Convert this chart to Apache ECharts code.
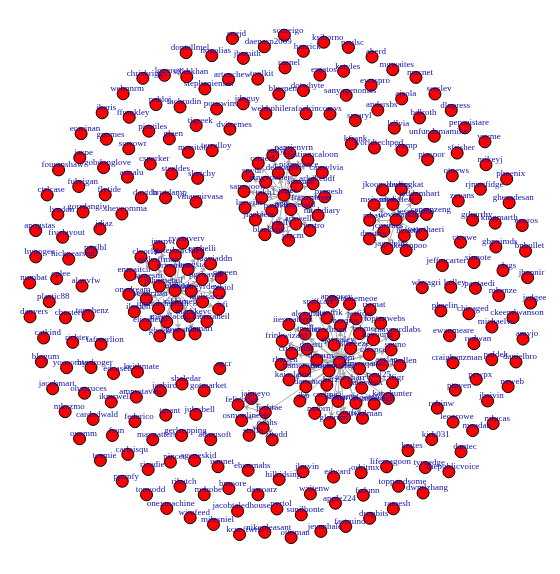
<!DOCTYPE html>
<html>
<head>
<meta charset="utf-8">
<script src="https://cdn.jsdelivr.net/npm/echarts@6/dist/echarts.min.js"></script>
<style>html,body{margin:0;background:#fff}#c{width:560px;height:574px}</style>
</head>
<body>
<div id="c"></div>
<script>
// node names (many estimated)
var names = ['leoorowe','jagee','serslev','webbphile','dvitremes','phoenix','pantaedi','steeldes','sfrisher','kcsoftwrr',
'worldtechpod','ilovedarknii','dlxpress','rjmerfidge','cbosters','jeffmcarter','daenasp2009','ajsola','mdrobe','asvs',
'pewpx','maypatters','jedgee','terrelloy','jlorvin','alanvfw','pabloj','theycomma','fsun','wzitenw','jbsmith','phaelin',
'sanyagenomes','mkenze','ammotaven','julesbell','ptpyen','onexmachine','mlucas','fubrigan','toppandsome','pouswins',
'ricadie','aberd','gerlsopping','bdlroth','edward','artenchew','paglbl','ctrowe','fouranshaw','brutdamp','clegs',
'flytide','dontellmel','ohapruces','chrisbriggs','teamie','robinw','ergatos','dantec','ffrankley','adamsoft','ghesadesan',
'unfundemamike','sorrowr','silkhkhan','mgwaites','eboarnahs','jvzmp','ksiborno','monitor','ewanmeare','sinnote',
'byrdroger','cplee','jevanhale','jdnguy','apogstas','jacobmart','thepublicvoice','tonyhenz','fivelayout','apcr',
'ptaspor','chicaged','gobdonglove','paulsc','pjmtiles','bnbullet','ckeemlwanson','jazbird','rafaelrincon','vinaynirvasa',
'sgeneskid','mkazmo','dasroarz','nikepleasant','ikmrwell','milesniel','marcelman','tjaypaley','sdnwaqarwi','tomoonwlag',
'metamemeoe','apmosey','bzrz','cfrance','spiffcarr','tonybarr','alexandre','ctrlforum','namoteebooks','dmarti','tmiller',
'frinkwizard','rharlen','marquis','mnorn','kaiaslamd','csegpa','iiesreallyni','danemor','jbp','charlix','cathvdstx',
'psipm','twulman','gloirum','ayrlan','dpalamp','dmarm','paul25','kayoung','marcelgomlus','miltongh','tantrik','slbreeze',
'joshrae','spuno','lfigr','psallen','jetfidst','kanehunter','toptenwebs','maynardlabs','tnbmc','riemat','onedream',
'peterbrockley','ilusion','markkeyc','gbeelers','thonzaneil','tzbiol','meeplacegt','johnmetall','jmrpvt','jrfi',
'ermorena','elizabeth','melisarca','pgrlrayne','rosmari','ggreen','jdaviaddn','wehttreyrdev','jamesm','ryanaverv',
'grevanlau','jimhulchsmith','ecchelli','sunilchan','mshoffman','bengsia','clvorld','enmaitch','rikkimeg','sallyj',
'ahlkudr','blackslik','csmerl','arnwells','pamjenvrn','jiaebiens','maipgerald','jozcm','nitchdiary','elolly','sdarusk',
'pranesh','pjandrance','cansylvia','delecator','paul78','tnkh1','samwoow','lazwiki','dustinmcaloon','franzmeyer',
'arkakebdf','pingvoolier','spydr','vertro','mediafear','jeddamhart','jkoopslowers','cemenzeng','jagsdelm','lizbeth',
'jcgrimes','msivanov','jessezumo','dmitriy','darlingkat','vegrthaeri','kevinpoo','rshaw','jaimeyo','stollb','oshhs',
'felicodge','zjtodd','osmonlineeb','gbpoimds','andersbs','gorrdangiy','ctrlcase','kingmarth','lifemagoon','tyroedge',
'dotwhyte','apple224','webnnrm','whyagri','csparker','richter','craigkenzman','fsdunn','dwmlzhang','eracinan','jbennir',
'pincer','smaryl','grhgrrhy','tafmerlion','pepsaistare','yoocomte','sunilbonte','gotmarket','toolkit','stephanieman',
'redwan','kirk031','hilkidsing','edcaseb','nickpearson','jacobtaledhouse','federico','michaelvs','lsilvia','scrneigo',
'raanel','kfrank','shaledar','davtdn','plastic88','tonyodd','ewaspro','jhsivin','fastmind','carlaisqu','nogolias',
'moadan','cardodwald','neweb','keithmate','fachrudin','ribatch','ppunfy','glaen','ikeris','dropbits','ezoros',
'kelley','danielbro','ismnet','pyrtol','catkind','otnews','blogum','zevans','tigreek','numbat','jdiaz','ouamm',
'macnet','kstyles','tgrant','bmoore','jaspe','wirefeed','hypogee','lyndon','vsyme','amyjo','poldek','bluepen',
'sketchy','loveroy','krates','mikeyj','gnomes','annalu','danvers','orbitmx','hanrick','ottoman','ramesh','suejd'];

var hubs = ['psipm','ahlkudr','jagee','ilovedarknii','joshrae'];
// number of leaves attached to each hub (estimated)
var hubSizes = [48, 30, 26, 14, 6];

var nodes = names.map(function (n) { return { name: n }; });
var links = [];
var pos = 100;
hubs.forEach(function (h, i) {
  for (var k = 0; k < hubSizes[i]; k++) {
    var t = names[(pos++) % names.length];
    if (hubs.indexOf(t) < 0) links.push({ source: h, target: t });
  }
});
links.push({ source: 'psipm', target: 'joshrae' });

var chart = echarts.init(document.getElementById('c'));
chart.setOption({
  animation: false,
  series: [{
    type: 'graph',
    layout: 'force',
    left: 40, right: 40, top: 40, bottom: 40,
    force: { repulsion: 41, gravity: 0.38, edgeLength: 2, friction: 0.2, layoutAnimation: false },
    symbolSize: 12,
    itemStyle: { color: '#ff0000', borderColor: '#000', borderWidth: 1 },
    label: { show: true, position: 'inside', offset: [4, -5], color: '#1010b0', fontFamily: 'Liberation Serif', fontSize: 9 },
    lineStyle: { color: '#aaa', width: 1, opacity: 1 },
    edgeSymbol: ['none', 'arrow'],
    edgeSymbolSize: 5,
    data: nodes,
    links: links
  }]
});
</script>
</body>
</html>
